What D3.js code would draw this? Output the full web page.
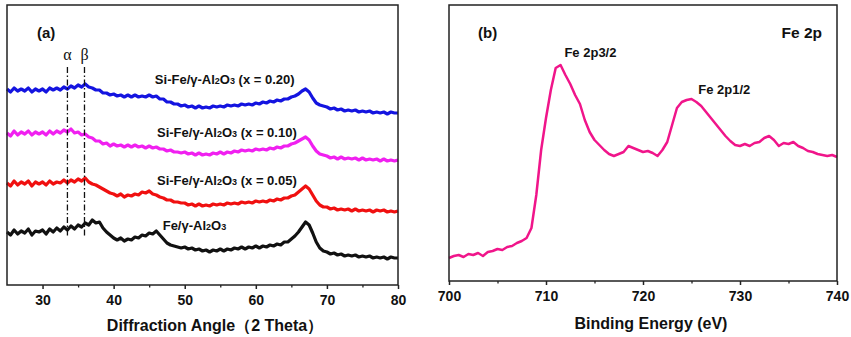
<!DOCTYPE html>
<html>
<head>
<meta charset="utf-8">
<script src="https://cdn.jsdelivr.net/npm/d3@7"></script>
<style>
  body { margin: 0; background: #fff; }
  text { font-family: "Liberation Sans", Arial, sans-serif; font-weight: bold; fill: #111; }
</style>
</head>
<body>
<script>
// ---- panel (a): XRD, intensity (a.u.) every 0.5 deg from 25 to 80
const twoTheta = d3.range(25, 80.001, 0.5);

const xrdFe = [
  53, 50, 55, 51, 54, 52, 56, 50, 54, 53,
  55, 51, 56, 53, 57, 54, 58, 55, 59, 56,
  60, 58, 62, 60, 65, 62, 63, 57, 53, 50,
  47, 45, 47, 44, 46, 45, 48, 47, 50, 49,
  52, 51, 54, 50, 46, 42, 40, 39, 38, 37,
  38, 36, 37, 35, 36, 34, 35, 33, 35, 34,
  36, 34, 36, 35, 37, 36, 38, 36, 38, 37,
  39, 37, 39, 38, 40, 39, 41, 40, 43, 43,
  46, 49, 53, 58, 63, 60, 52, 43, 37, 34,
  33, 31, 32, 30, 31, 29, 30, 29, 30, 28,
  29, 28, 29, 27, 28, 27, 28, 26, 28, 27, 27
];
const xrd005 = [
  102, 99, 104, 100, 103, 101, 104, 99, 103, 101,
  103, 100, 104, 101, 103, 102, 105, 102, 105, 103,
  106, 104, 107, 103, 101, 100, 98, 96, 94, 92,
  91, 89, 91, 88, 90, 89, 91, 90, 93, 92,
  94, 91, 90, 88, 87, 85, 85, 83, 83, 82,
  82, 80, 81, 79, 81, 79, 80, 79, 81, 80,
  81, 80, 82, 81, 82, 81, 83, 82, 83, 82,
  84, 83, 84, 83, 85, 84, 86, 85, 87, 87,
  89, 90, 93, 96, 99, 96, 90, 84, 80, 78,
  78, 76, 77, 75, 76, 75, 76, 74, 76, 74,
  75, 74, 75, 73, 75, 74, 75, 73, 74, 73, 74
];
const xrd010 = [
  152, 149, 154, 150, 153, 151, 154, 150, 153, 151,
  153, 150, 154, 151, 154, 152, 155, 153, 156, 152,
  153, 150, 151, 148, 147, 144, 144, 141, 142, 139,
  141, 139, 140, 138, 140, 138, 140, 138, 139, 137,
  139, 137, 138, 136, 136, 134, 135, 133, 133, 132,
  133, 131, 132, 130, 132, 130, 131, 130, 132, 131,
  133, 131, 133, 132, 134, 133, 135, 134, 135, 134,
  136, 135, 136, 135, 137, 136, 138, 137, 139, 139,
  141, 142, 144, 146, 148, 145, 139, 134, 131, 130,
  129, 127, 128, 126, 128, 126, 127, 126, 127, 125,
  127, 125, 126, 125, 126, 124, 126, 124, 125, 124, 125
];
const xrd020 = [
  196, 193, 197, 194, 196, 194, 197, 193, 196, 194,
  196, 193, 197, 195, 197, 195, 198, 196, 199, 197,
  200, 198, 201, 198, 197, 195, 195, 192, 192, 190,
  191, 189, 190, 188, 190, 188, 190, 188, 189, 188,
  190, 188, 189, 186, 186, 183, 183, 181, 181, 179,
  180, 178, 179, 177, 179, 177, 178, 177, 179, 178,
  179, 178, 180, 179, 180, 179, 181, 180, 181, 180,
  182, 181, 183, 182, 184, 183, 185, 184, 186, 186,
  188, 189, 191, 194, 196, 193, 187, 182, 180, 179,
  178, 176, 177, 175, 176, 174, 175, 174, 175, 173,
  174, 173, 174, 172, 173, 172, 173, 171, 173, 172, 172
];

const xrdSeries = [
  {name: "Fe", values: xrdFe, color: "#111111"},
  {name: "0.05", values: xrd005, color: "#f01010"},
  {name: "0.10", values: xrd010, color: "#f020f0"},
  {name: "0.20", values: xrd020, color: "#1414e0"}
];
const xrdTicks = [30, 40, 50, 60, 70, 80];
const xrdMinor = [35, 45, 55, 65, 75];
const phaseLines = [{label: "α", at: 33.5}, {label: "β", at: 35.9}];

// ---- panel (b): XPS Fe 2p, intensity every 0.5 eV from 700 to 740
const bindingEnergy = d3.range(700, 740.001, 0.5);
const xpsFe2p = [
  23, 25, 26, 24, 27, 26, 28, 25, 29, 30,
  32, 31, 34, 35, 38, 40, 43, 53, 86, 131,
  163, 191, 213, 216, 206, 197, 186, 177, 161, 149,
  141, 136, 131, 127, 125, 127, 129, 135, 133, 131,
  129, 130, 128, 125, 131, 139, 156, 173, 179, 181,
  182, 179, 175, 169, 163, 157, 151, 145, 140, 136,
  135, 137, 135, 138, 139, 143, 145, 141, 135, 138,
  137, 139, 135, 133, 130, 129, 127, 126, 125, 126, 124
];
const xpsTicks = [700, 710, 720, 730, 740];
const xpsMinor = [705, 715, 725, 735];

const svg = d3.select("body").append("svg")
    .attr("width", 851)
    .attr("height", 337);

// scales
const xA = d3.scaleLinear().domain([25, 80]).range([7, 398]);
const yA = d3.scaleLinear().domain([0, 280]).range([285, 5]);
const xB = d3.scaleLinear().domain([700, 740]).range([449, 837]);
const yB = d3.scaleLinear().domain([0, 276]).range([281, 5]);

function drawAxis(g, x, y0, major, minor) {
    g.append("g")
        .attr("transform", `translate(0,${y0})`)
        .call(d3.axisBottom(x).tickValues(minor).tickSize(2.5).tickFormat(""))
        .call(a => a.select(".domain").remove())
        .selectAll("line").attr("stroke", "#222").attr("stroke-width", 1.3);
    const ax = g.append("g")
        .attr("transform", `translate(0,${y0})`)
        .call(d3.axisBottom(x).tickValues(major).tickSize(4).tickPadding(6));
    ax.select(".domain").remove();
    ax.selectAll("line").attr("stroke", "#222").attr("stroke-width", 1.5);
    ax.selectAll("text")
        .attr("font-size", 14)
        .attr("font-family", "Liberation Sans, Arial, sans-serif")
        .attr("font-weight", "bold")
        .attr("fill", "#111");
}

// ---------- panel (a)
const gA = svg.append("g");

const lineA = d3.line()
    .x((d, i) => xA(twoTheta[i]))
    .y(d => yA(d));

gA.selectAll("path.xrd")
    .data(xrdSeries)
    .join("path")
    .attr("class", "xrd")
    .attr("fill", "none")
    .attr("stroke", d => d.color)
    .attr("stroke-width", 3.2)
    .attr("stroke-linejoin", "round")
    .attr("d", d => lineA(d.values));

// alpha / beta reference lines
gA.selectAll("line.phase")
    .data(phaseLines)
    .join("line")
    .attr("class", "phase")
    .attr("x1", d => xA(d.at)).attr("x2", d => xA(d.at))
    .attr("y1", 67).attr("y2", 238)
    .attr("stroke", "#111")
    .attr("stroke-width", 1.3)
    .attr("stroke-dasharray", "6,2.5,1.5,2.5");

gA.selectAll("text.phase")
    .data(phaseLines)
    .join("text")
    .attr("class", "phase")
    .attr("x", d => xA(d.at))
    .attr("y", 60)
    .attr("text-anchor", "middle")
    .attr("font-size", 16)
    .style("font-family", "'Liberation Serif', 'DejaVu Serif', serif")
    .style("font-weight", "normal")
    .text(d => d.label);

// sample labels
const sampleLabels = [
    {x: 45.8, y: 84, pre: "Si-Fe/γ-Al", post: " (x = 0.20)"},
    {x: 46.1, y: 137, pre: "Si-Fe/γ-Al", post: " (x = 0.10)"},
    {x: 46.1, y: 185, pre: "Si-Fe/γ-Al", post: " (x = 0.05)"},
    {x: 46.9, y: 230, pre: "Fe/γ-Al", post: ""}
];
sampleLabels.forEach(l => {
    const t = gA.append("text")
        .attr("x", xA(l.x))
        .attr("y", l.y)
        .attr("font-size", 13);
    t.append("tspan").text(l.pre);
    t.append("tspan").attr("font-size", 9).text("2");
    t.append("tspan").text("O");
    t.append("tspan").attr("font-size", 9).text("3");
    if (l.post) t.append("tspan").text(l.post);
});

gA.append("text").attr("x", 37).attr("y", 38).attr("font-size", 15).text("(a)");

drawAxis(gA, xA, 285, xrdTicks, xrdMinor);

gA.append("rect")
    .attr("x", 7).attr("y", 5)
    .attr("width", 391).attr("height", 280)
    .attr("fill", "none")
    .attr("stroke", "#222")
    .attr("stroke-width", 1.5);

gA.append("text")
    .attr("x", 215).attr("y", 331)
    .attr("text-anchor", "middle")
    .attr("font-size", 16)
    .text("Diffraction Angle（2 Theta）");

// ---------- panel (b)
const gB = svg.append("g");

const lineB = d3.line()
    .x((d, i) => xB(bindingEnergy[i]))
    .y(d => yB(d));

gB.append("path")
    .attr("fill", "none")
    .attr("stroke", "#f0158a")
    .attr("stroke-width", 2.5)
    .attr("stroke-linejoin", "round")
    .attr("d", lineB(xpsFe2p));

gB.append("text").attr("x", xB(711.9)).attr("y", 57).attr("font-size", 13).text("Fe 2p3/2");
gB.append("text").attr("x", xB(725.7)).attr("y", 94).attr("font-size", 13).text("Fe 2p1/2");
gB.append("text").attr("x", 478).attr("y", 38).attr("font-size", 15).text("(b)");
gB.append("text").attr("x", 822).attr("y", 38).attr("text-anchor", "end").attr("font-size", 15.5).text("Fe 2p");

drawAxis(gB, xB, 281, xpsTicks, xpsMinor);

gB.append("rect")
    .attr("x", 449).attr("y", 5)
    .attr("width", 388).attr("height", 276)
    .attr("fill", "none")
    .attr("stroke", "#222")
    .attr("stroke-width", 1.5);

gB.append("text")
    .attr("x", 651).attr("y", 329)
    .attr("text-anchor", "middle")
    .attr("font-size", 16)
    .text("Binding Energy (eV)");
</script>
</body>
</html>
